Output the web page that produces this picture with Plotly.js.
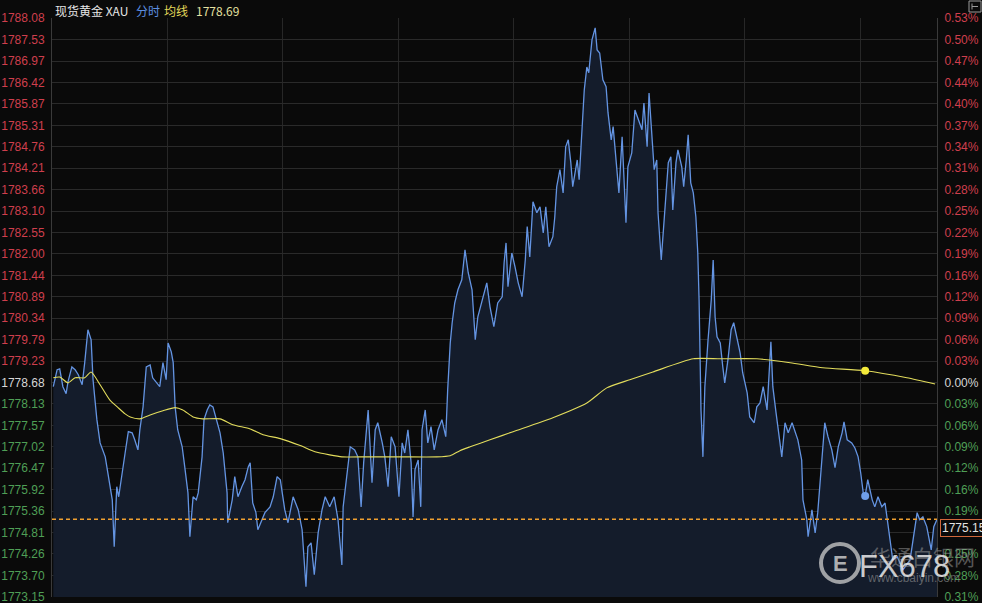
<!DOCTYPE html>
<html>
<head>
<meta charset="utf-8">
<script src="https://cdn.plot.ly/plotly-3.0.1.min.js"></script>
<style>
html,body{margin:0;padding:0;background:#0a0a0a;}
#chart{width:982px;height:603px;}
</style>
</head>
<body>
<div id="chart"></div>
<script>
// ---- data (minutes since session open, price) ----
const priceMinutes = [2,8,12,17,22,25,31,36,41,47,51,56,61,64,70,75,83,87,94,97,101,104,109,114,119,125,129,134,137,142,147,153,157,164,168,173,178,181,186,189,192,196,203,207,212,215,220,225,228,234,237,242,246,251,257,262,267,273,274,281,285,290,296,301,306,309,313,318,321,327,332,340,345,351,356,
363,368,376,384,390,396,399,404,409,415,421,426,433,440,446,452,454,460,465,472,477,482,486,493,497,499,504,508,515,519,524,529,535,541,546,550,555,560,563,566,571,575,577,582,586,591,596,602,608,614,617,621,624,628,633,639,644,649,655,660,664,670,678,683,689,695,702,705,
708,711,717,722,727,733,738,741,745,750,756,761,766,770,775,781,784,787,792,797,801,805,809,812,819,822,826,830,834,837,842,847,850,854,859,864,867,872,875,879,884,889,892,895,898,904,909,914,920,923,928,931,936,939,943,945,950,953,957,961,965,968,973,976,982,985,989,992,996,1000,1004,1007,1009,1012,
1015,1018,1023,1028,1031,1034,1037,1042,1046,1049,1054,1059,1063,1068,1073,1077,1084,1088,1095,1099,1104,1109,1115,1121,1124,1129,1134,1138,1143,1148,1154,1159,1163,1169,1171,1177,1179,1185,1190,1194,1201,1205,1210,1216,1221,1226,1232,1235,1240,1247,1252,1257,1261,1265,1268,1272,1279,1283,1288,1294,1299,1302,1307,1311,1318,1327,1338,1343,1349,1353,1358,1364,1371,1375,1380];
const priceValues = [1778.57,1779.01,1779.03,1778.57,1778.39,1778.70,1779.08,1779.01,1778.88,1778.62,1779.19,1780.04,1779.78,1778.75,1777.72,1777.12,1776.76,1776.35,1775.65,1774.44,1775.99,1775.73,1776.35,1776.86,1777.41,1777.38,1777.20,1776.94,1777.46,1778.05,1779.08,1779.13,1778.80,1778.67,1778.57,1779.19,1778.75,1779.70,1779.47,1779.19,1778.05,1777.46,1777.02,1776.50,1775.83,1774.70,1775.73,1775.65,1775.83,1776.76,1777.72,1777.97,1778.10,1778.05,1777.72,1777.38,1776.86,1775.83,1775.06,1775.65,1776.25,1775.73,1775.99,1776.17,1776.50,1776.61,1775.57,1775.32,1774.88,1775.14,1775.32,1775.47,1775.73,1776.25,1776.17,
1775.39,1775.06,1775.73,1775.39,1774.88,1773.41,1774.44,1774.54,1773.72,1774.80,1775.39,1775.73,1775.47,1775.73,1775.14,1773.97,1775.47,1776.25,1777.02,1776.94,1776.76,1775.47,1776.61,1777.97,1776.68,1776.09,1777.46,1777.64,1777.12,1776.76,1775.99,1777.28,1777.02,1775.73,1777.12,1776.86,1777.46,1776.61,1775.21,1776.43,1776.68,1775.47,1777.46,1777.97,1777.12,1777.54,1776.94,1777.46,1777.72,1777.28,1778.49,1779.70,1780.22,1780.73,1781.07,1781.33,1782.10,1781.51,1781.07,1779.78,1780.37,1780.73,1781.25,1780.63,1780.12,1780.73,1780.89,1781.77,
1782.28,1781.15,1782.02,1781.66,1781.25,1780.89,1781.84,1782.70,1781.92,1783.34,1783.06,1783.21,1782.54,1783.21,1782.18,1782.44,1782.95,1783.73,1784.17,1783.57,1784.76,1784.94,1784.35,1783.73,1784.42,1783.91,1784.94,1786.23,1786.82,1786.67,1787.52,1787.83,1787.26,1787.18,1786.49,1786.31,1785.64,1784.94,1785.28,1784.42,1783.57,1785.02,1784.09,1782.80,1784.24,1784.60,1785.71,1785.46,1785.20,1785.89,1784.76,1786.15,1784.86,1784.17,1784.42,1783.06,1781.84,1782.54,1783.21,1784.35,1784.50,1783.13,1784.35,1784.68,1784.24,1783.73,1784.42,1785.07,1783.83,1783.57,1782.95,1782.02,1780.81,1777.97,
1776.76,1778.57,1779.78,1780.81,1781.84,1780.37,1779.86,1779.70,1779.08,1778.67,1779.26,1780.04,1780.22,1779.78,1779.44,1778.93,1778.41,1777.79,1777.64,1778.05,1778.15,1778.57,1777.97,1779.73,1778.57,1777.90,1777.28,1776.76,1777.64,1777.38,1777.64,1777.38,1777.20,1776.68,1775.65,1775.14,1774.70,1775.39,1774.80,1775.32,1776.76,1777.64,1777.28,1776.94,1776.48,1777.02,1777.38,1777.66,1777.20,1777.12,1776.99,1776.76,1776.35,1775.83,1775.75,1776.17,1775.65,1775.47,1775.73,1775.47,1775.57,1775.21,1774.62,1774.10,1774.18,1773.85,1774.10,1774.62,1775.32,1775.14,1775.21,1774.96,1774.36,1774.96,1775.15];

const avgMinutes = [2,12,25,36,51,61,75,90,103,114,122,137,153,173,192,204,220,235,262,282,309,329,356,387,410,433,452,493,543,600,621,636,652,683,719,781,834,865,901,937,1000,1042,1099,1151,1202,1268,1333,1377];
const avgValues = [1778.80,1778.82,1778.67,1778.80,1778.80,1778.95,1778.62,1778.23,1778.03,1777.87,1777.79,1777.74,1777.84,1777.95,1778.03,1777.97,1777.79,1777.74,1777.74,1777.59,1777.48,1777.33,1777.23,1777.05,1776.89,1776.81,1776.76,1776.76,1776.76,1776.76,1776.79,1776.92,1777.02,1777.20,1777.41,1777.77,1778.15,1778.54,1778.75,1778.95,1779.29,1779.29,1779.29,1779.19,1779.06,1778.98,1778.80,1778.64];

const leftTickValues = [1788.08,1787.53,1786.97,1786.42,1785.87,1785.31,1784.76,1784.21,1783.66,1783.10,1782.55,1782.00,1781.44,1780.89,1780.34,1779.79,1779.23,1778.68,1778.13,1777.57,1777.02,1776.47,1775.92,1775.36,1774.81,1774.26,1773.70,1773.15];
const rightTickLabels = ['0.53%','0.50%','0.47%','0.44%','0.40%','0.37%','0.34%','0.31%','0.28%','0.25%','0.22%','0.19%','0.16%','0.12%','0.09%','0.06%','0.03%','0.00%','0.03%','0.06%','0.09%','0.12%','0.16%','0.19%','0.22%','0.25%','0.28%','0.31%'];
const hourGrid = [0,180,360,540,720,900,1080,1260,1380];
const basePrice = 1778.68;
const lastPrice = 1775.15;
const cursorMinute = 1268;
const sessionMinutes = 1380;
const headerName = '现货黄金 XAU';
const headerMode = '分时';
const headerAvgLabel = '均线';
const headerAvgValue = '1778.69';

// ---- build ----
const RED = '#cf3f4d', GREEN = '#4f9f56', WHITE = '#d6d6d6';
function colorFor(v){ return v > basePrice + 1e-9 ? RED : (Math.abs(v-basePrice) < 1e-9 ? WHITE : GREEN); }
const leftText = leftTickValues.map(v => '<span style="color:' + colorFor(v) + '">' + v.toFixed(2) + '</span>');
const rightText = rightTickLabels.map((t,i) => '<span style="color:' + colorFor(leftTickValues[i]) + '">' + t + '</span>');

const ci = priceMinutes.indexOf(cursorMinute);
const ai = avgMinutes.indexOf(cursorMinute);
const yLo = leftTickValues[leftTickValues.length-1] - 0.006;
const yHi = leftTickValues[0] + 0.003;

const traces = [
  {x: priceMinutes, y: priceValues, type:'scatter', mode:'lines', fill:'tozeroy',
   fillcolor:'#141c2b', line:{color:'#6494e2', width:1.3}, hoverinfo:'skip'},
  {x: avgMinutes, y: avgValues, type:'scatter', mode:'lines', line:{color:'#e2dc5c', width:1.1, shape:'spline', smoothing:0.6}, hoverinfo:'skip'},
  {x:[priceMinutes[ci]], y:[priceValues[ci]], type:'scatter', mode:'markers', marker:{color:'#6f9fea', size:8}, hoverinfo:'skip'},
  {x:[avgMinutes[ai]], y:[avgValues[ai]], type:'scatter', mode:'markers', marker:{color:'#f3ea3a', size:8}, hoverinfo:'skip'},
  {x:[0], y:[basePrice], yaxis:'y2', type:'scatter', mode:'lines', line:{width:0}, hoverinfo:'skip'}
];

const W = 885, L = 52;
function px(p){ return (p - L)/W; }
function py(p){ return (597 - p)/579; }

const layout = {
  width: 982, height: 603,
  margin: {l:52, r:45, t:18, b:6, pad:0},
  paper_bgcolor: '#0a0a0a', plot_bgcolor: '#0a0a0a',
  showlegend: false, hovermode: false,
  font: {family:'Liberation Sans, Arial, sans-serif', size:12, color:'#d6d6d6'},
  xaxis: {range:[0, sessionMinutes], tickvals: hourGrid, showticklabels:false, ticks:'',
          showgrid:true, gridcolor:'#272727', gridwidth:1, zeroline:false, showline:false, fixedrange:true},
  yaxis: {range:[yLo, yHi], tickvals: leftTickValues, ticktext: leftText, ticklabeloverflow:'allow',
          side:'left', ticks:'', ticklabelstandoff:4, showgrid:true, gridcolor:'#2a2a2a', gridwidth:1,
          zeroline:false, showline:true, linecolor:'#3a3a3a', linewidth:1, tickfont:{size:12}},
  yaxis2: {range:[yLo, yHi], tickvals: leftTickValues, ticktext: rightText, ticklabeloverflow:'allow',
          overlaying:'y', side:'right', ticks:'', ticklabelstandoff:4, showgrid:false, zeroline:false,
          showline:true, linecolor:'#3a3a3a', linewidth:1, tickfont:{size:12}},
  shapes: [
    {type:'line', xref:'paper', x0:0, x1:1, yref:'y', y0:lastPrice, y1:lastPrice,
     line:{color:'#f0a030', width:1.3, dash:'4px,3px'}},
    // watermark logo ring
    {type:'circle', xref:'paper', yref:'paper', x0:px(821), x1:px(859), y0:py(582), y1:py(544),
     line:{color:'rgba(205,205,205,0.75)', width:4}},
    // top-right icon
    {type:'rect', xref:'paper', yref:'paper', x0:px(969), x1:px(981), y0:py(12), y1:py(1),
     line:{color:'#9a9a9a', width:1}},
    {type:'line', xref:'paper', yref:'paper', x0:px(972), x1:px(978), y0:py(6.5), y1:py(6.5),
     line:{color:'#9a9a9a', width:1}},
    {type:'line', xref:'paper', yref:'paper', x0:px(972), x1:px(972), y0:py(9.5), y1:py(3.5),
     line:{color:'#9a9a9a', width:1}}
  ],
  annotations: [
    {xref:'paper', yref:'paper', x:px(53), y:py(10), xanchor:'left', yanchor:'middle', showarrow:false,
     text: headerName, font:{family:'Noto Sans CJK SC, sans-serif', size:12, color:'#e6e6e6'}},
    {xref:'paper', yref:'paper', x:px(134), y:py(10), xanchor:'left', yanchor:'middle', showarrow:false,
     text: headerMode, font:{family:'Noto Sans CJK SC, sans-serif', size:12, color:'#5c8fe0'}},
    {xref:'paper', yref:'paper', x:px(162), y:py(10), xanchor:'left', yanchor:'middle', showarrow:false,
     text: headerAvgLabel, font:{family:'Noto Sans CJK SC, sans-serif', size:12, color:'#e3d95a'}},
    {xref:'paper', yref:'paper', x:px(194), y:py(10), xanchor:'left', yanchor:'middle', showarrow:false,
     text: headerAvgValue, font:{family:'Noto Sans CJK SC, sans-serif', size:12, color:'#e4e0a0'}},
    // current price box
    {xref:'paper', yref:'y', x:px(940), y:lastPrice, xanchor:'left', yanchor:'top', showarrow:false,
     text: lastPrice.toFixed(2), bgcolor:'#0a0a0a', bordercolor:'#d0683c', borderwidth:1, borderpad:1,
     font:{size:12, color:'#e2e2e2'}},
    // watermark
    {xref:'paper', yref:'paper', x:px(922), y:py(556), xanchor:'center', yanchor:'middle', showarrow:false,
     text:'华通白银网', font:{family:'Noto Sans CJK SC, sans-serif', size:21, color:'rgba(150,150,150,0.55)'}},
    {xref:'paper', yref:'paper', x:px(913), y:py(578), xanchor:'center', yanchor:'middle', showarrow:false,
     text:'www.cbaiyin.com', font:{size:12, color:'rgba(150,150,150,0.6)'}},
    {xref:'paper', yref:'paper', x:px(840), y:py(563), xanchor:'center', yanchor:'middle', showarrow:false,
     text:'<b>E</b>', font:{size:22, color:'rgba(215,215,215,0.8)'}},
    {xref:'paper', yref:'paper', x:px(857), y:py(566), xanchor:'left', yanchor:'middle', showarrow:false,
     text:'FX678', font:{size:31, color:'rgba(235,235,235,0.85)'}}
  ]
};

Plotly.newPlot('chart', traces, layout, {displayModeBar:false, staticPlot:true});
</script>
</body>
</html>
